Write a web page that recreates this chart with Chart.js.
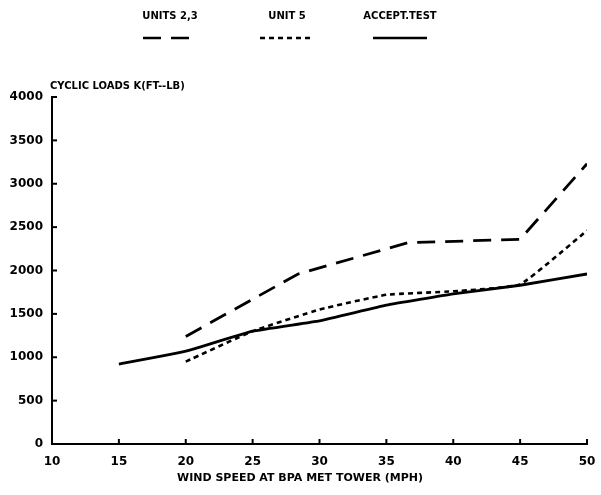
<!DOCTYPE html>
<html>
<head>
<meta charset="utf-8">
<script src="https://cdn.jsdelivr.net/npm/chart.js@4.4.1/dist/chart.umd.min.js"></script>
<style>
  html, body { margin: 0; padding: 0; background: #fff; }
  #wrap { width: 601px; height: 495px; }
</style>
</head>
<body>
<div id="wrap"><canvas id="grafico"></canvas></div>
<script>
// dados (velocidade do vento em mph, cargas em K ft-lb)
var units23X = [20, 28.4, 36.6, 45, 50];
var units23Y = [1240, 1960, 2320, 2360, 3230];

var unit5X = [20, 25, 30, 35, 40, 45, 50];
var unit5Y = [950, 1300, 1550, 1720, 1760, 1840, 2460];

var acceptX = [15, 20, 25, 30, 35, 40, 45, 50];
var acceptY = [920, 1070, 1300, 1420, 1600, 1730, 1830, 1960];

var xTicks = [10, 15, 20, 25, 30, 35, 40, 45, 50];
var yTicks = [0, 500, 1000, 1500, 2000, 2500, 3000, 3500, 4000];

var legendLabels = ["UNITS 2,3", "UNIT 5", "ACCEPT.TEST"];
var yTitle = "CYCLIC LOADS K(FT--LB)";
var xTitle = "WIND SPEED AT BPA MET TOWER (MPH)";

function pontos(xs, ys) {
  return xs.map(function (x, i) { return { x: x, y: ys[i] }; });
}

var fonte = '"DejaVu Sans", sans-serif';

// marcas internas dos eixos, titulos e legenda
var extras = {
  id: 'extras',
  afterDraw: function (chart) {
    var ctx = chart.ctx;
    var xs = chart.scales.x, ys = chart.scales.y;
    var area = chart.chartArea;
    ctx.save();
    ctx.strokeStyle = '#000';
    ctx.lineWidth = 2;
    yTicks.forEach(function (v) {
      if (v === 0) return;
      var py = ys.getPixelForValue(v);
      ctx.beginPath();
      ctx.moveTo(area.left, py);
      ctx.lineTo(area.left + 5, py);
      ctx.stroke();
    });
    xTicks.forEach(function (v) {
      if (v === 10) return;
      var px = xs.getPixelForValue(v);
      ctx.beginPath();
      ctx.moveTo(px, area.bottom);
      ctx.lineTo(px, area.bottom - 5);
      ctx.stroke();
    });

    ctx.fillStyle = '#000';
    ctx.font = 'bold 10px ' + fonte;
    ctx.textBaseline = 'middle';
    ctx.textAlign = 'left';
    ctx.fillText(yTitle, 50, 86);
    ctx.textAlign = 'center';
    ctx.font = 'bold 11px ' + fonte;
    ctx.fillText(xTitle, 300, 478);

    // legenda
    ctx.font = 'bold 10px ' + fonte;
    var lx = [170, 287, 400];
    var dashes = [[18, 10], [5, 4], []];
    legendLabels.forEach(function (t, i) {
      ctx.fillText(t, lx[i], 16);
      ctx.setLineDash(dashes[i]);
      ctx.lineWidth = 2.5;
      ctx.beginPath();
      ctx.moveTo(lx[i] - 27, 38);
      ctx.lineTo(lx[i] + 27, 38);
      ctx.stroke();
    });
    ctx.restore();
  }
};

var ctx = document.getElementById('grafico').getContext('2d');
var chart = new Chart(ctx, {
  type: 'line',
  data: {
    datasets: [{
      label: legendLabels[0],
      data: pontos(units23X, units23Y),
      borderColor: '#000',
      borderWidth: 2.8,
      borderDash: [18, 10],
      pointRadius: 0,
      tension: 0
    }, {
      label: legendLabels[1],
      data: pontos(unit5X, unit5Y),
      borderColor: '#000',
      borderWidth: 2.6,
      borderDash: [5, 4],
      pointRadius: 0,
      tension: 0.12
    }, {
      label: legendLabels[2],
      data: pontos(acceptX, acceptY),
      borderColor: '#000',
      borderWidth: 2.8,
      pointRadius: 0,
      tension: 0.1
    }]
  },
  options: {
    responsive: true,
    maintainAspectRatio: false,
    animation: false,
    layout: { padding: { top: 97, right: 14, left: 0, bottom: 0 } },
    plugins: { legend: { display: false }, tooltip: { enabled: false } },
    scales: {
      x: {
        type: 'linear',
        min: 10, max: 50,
        afterBuildTicks: function (s) { s.ticks = xTicks.map(function (v) { return { value: v }; }); },
        afterFit: function (s) { s.height = 51; s.paddingRight = 0; s.paddingLeft = 0; },
        grid: { drawOnChartArea: false, drawTicks: false },
        border: { display: true, color: '#000', width: 2 },
        ticks: { color: '#000', padding: 11, maxRotation: 0, callback: function (v) { return String(v); }, font: { family: fonte, weight: 'bold', size: 12 } }
      },
      y: {
        min: 0, max: 4000,
        afterBuildTicks: function (s) { s.ticks = yTicks.map(function (v) { return { value: v }; }); },
        afterFit: function (s) { s.width = 52; s.paddingTop = 0; s.paddingBottom = 0; },
        grid: { drawOnChartArea: false, drawTicks: false },
        border: { display: true, color: '#000', width: 2 },
        ticks: { color: '#000', padding: 9, callback: function (v) { return String(v); }, font: { family: fonte, weight: 'bold', size: 12 } }
      }
    }
  },
  plugins: [extras]
});
</script>
</body>
</html>
